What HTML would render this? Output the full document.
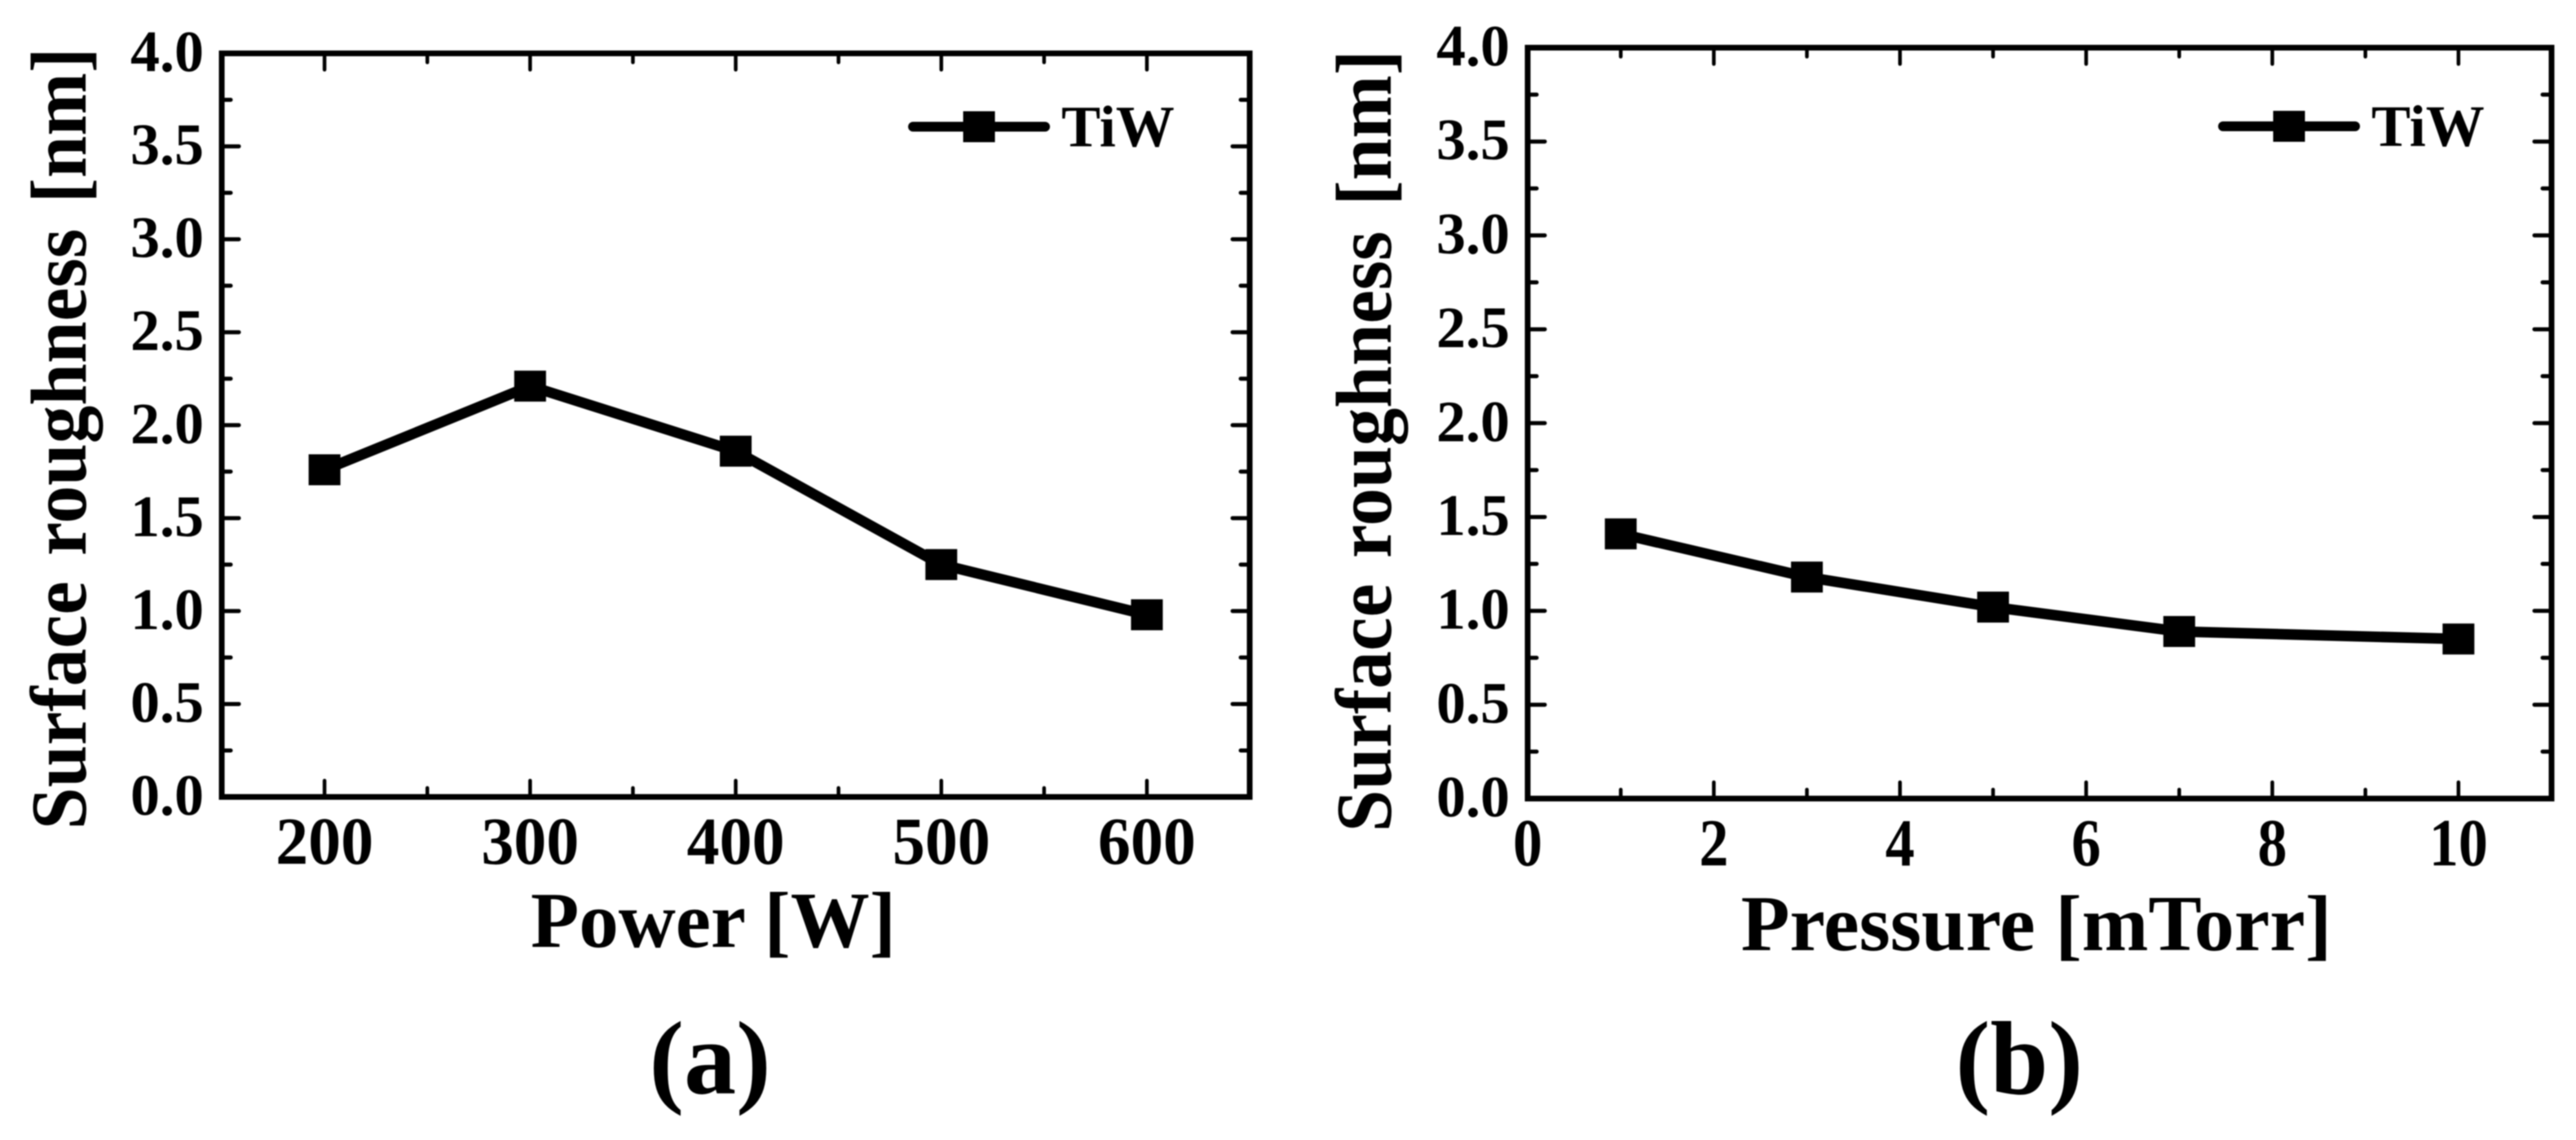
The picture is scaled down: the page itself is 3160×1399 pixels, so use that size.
<!DOCTYPE html>
<html lang="en">
<head>
<meta charset="utf-8">
<title>Surface roughness of TiW versus power and pressure</title>
<style>
  html, body { margin: 0; padding: 0; background: #fff; width: 3160px; height: 1399px; overflow: hidden; }
  svg { display: block; filter: blur(0.7px); }
  text { font-family: "Liberation Serif", serif; font-weight: bold; fill: #000; }
</style>
</head>
<body>
<svg id="figure" xmlns="http://www.w3.org/2000/svg" width="3160" height="1399" viewBox="0 0 3160 1399">
  <rect x="0" y="0" width="3160" height="1399" fill="#fff"/>
  <text x="871" y="1342" font-size="128" text-anchor="middle">(a)</text>
  <text x="2477" y="1342" font-size="128" text-anchor="middle">(b)</text>
</svg>
<script>
const yTickLabels = ["0.0", "0.5", "1.0", "1.5", "2.0", "2.5", "3.0", "3.5", "4.0"];
const powerTickLabels = ["200", "300", "400", "500", "600"];
const pressureTickLabels = ["0", "2", "4", "6", "8", "10"];
const powerValues = [200, 300, 400, 500, 600];
const powerRoughness = [1.76, 2.21, 1.86, 1.25, 0.98];
const pressureValues = [1, 3, 5, 7, 10];
const pressureRoughness = [1.41, 1.18, 1.02, 0.89, 0.85];

const NS = 'http://www.w3.org/2000/svg';
const svg = document.getElementById('figure');

function make(tag, parent, attrs, text) {
  const el = document.createElementNS(NS, tag);
  for (const k in attrs) el.setAttribute(k, attrs[k]);
  if (text !== undefined) el.textContent = text;
  parent.appendChild(el);
  return el;
}

function drawPanel(cfg) {
  const g = make('g', svg, {});
  
  

  const xAt = v => cfg.left + (v - cfg.xMin) / (cfg.xMax - cfg.xMin) * (cfg.right - cfg.left);
  const yAt = v => cfg.bottom - (v - 0) / (4 - 0) * (cfg.bottom - cfg.top);

  const xLabelValues = cfg.xLabels.map(Number);
  const xStep = (xLabelValues[1] - xLabelValues[0]) / 2;

  // X ticks, major and minor, on bottom and top edges
  for (let i = 0; ; i++) {
    const v = xLabelValues[0] + i * xStep;
    if (v >= cfg.xMax) break;
    if (v <= cfg.xMin) continue;
    const major = i % 2 === 0;
    const len = major ? 20 : 11;
    const x = xAt(v);
    const tickB = make('line', g, { x1: x, x2: x, y1: cfg.bottom, y2: cfg.bottom - len, stroke: '#000', 'stroke-width': 4.5, 'stroke-linecap': 'round' });
    
    
    const tickT = make('line', g, { x1: x, x2: x, y1: cfg.top, y2: cfg.top + len, stroke: '#000', 'stroke-width': 4.5, 'stroke-linecap': 'round' });
    
    
  }

  // Y ticks, major and minor, on left and right edges
  const yLabelValues = yTickLabels.map(Number);
  for (let i = 0; i < yLabelValues.length; i++) {
    const vals = i < yLabelValues.length - 1 ? [yLabelValues[i], (yLabelValues[i] + yLabelValues[i + 1]) / 2] : [yLabelValues[i]];
    vals.forEach((v, j) => {
      if (v === 0 || v === 4) return;
      const len = j === 0 ? 21 : 11;
      const y = yAt(v);
      const tickL = make('line', g, { x1: cfg.left, x2: cfg.left + len, y1: y, y2: y, stroke: '#000', 'stroke-width': 5, 'stroke-linecap': 'round' });
      
      
      const tickR = make('line', g, { x1: cfg.right, x2: cfg.right - len, y1: y, y2: y, stroke: '#000', 'stroke-width': 5, 'stroke-linecap': 'round' });
      
      
    });
  }

  // Frame
  const frame = make('rect', g, { x: cfg.left, y: cfg.top, width: cfg.right - cfg.left, height: cfg.bottom - cfg.top, fill: 'none', stroke: '#000', 'stroke-width': 7 });
  
  

  // Tick labels
  cfg.xLabels.forEach(label => {
    const t = make('text', g, { transform: 'translate(' + xAt(Number(label)) + ',' + cfg.xLabelBaseline + ') scale(1,' + cfg.xLabelStretch + ')', 'font-size': cfg.xLabelSize, 'text-anchor': 'middle' }, label);
    
    
  });
  yTickLabels.forEach(label => {
    const t = make('text', g, { x: cfg.left - 22, y: yAt(Number(label)) + 22, 'font-size': 72, 'text-anchor': 'end' }, label);
    
    
  });

  // Axis titles
  const xTitle = make('text', g, { x: cfg.xTitleX, y: cfg.xTitleY, 'font-size': cfg.xTitleSize, 'text-anchor': 'middle' }, cfg.xTitle);
  
  
  const yTitle = make('text', g, { transform: 'translate(' + cfg.yTitleX + ',' + cfg.yTitleY + ') rotate(-90) scale(1,1.05)', 'font-size': 93, 'word-spacing': 8 }, 'Surface roughness [nm]');
  
  

  // Series line
  const pts = cfg.xs.map((x, i) => xAt(x) + ',' + yAt(cfg.ys[i])).join(' ');
  const line = make('polyline', g, { points: pts, fill: 'none', stroke: '#000', 'stroke-width': 13, 'stroke-linejoin': 'round', 'stroke-linecap': 'round' });
  
  

  // Series markers
  cfg.xs.forEach((x, i) => {
    const m = make('rect', g, { x: xAt(x) - 19.5, y: yAt(cfg.ys[i]) - 19, width: 39, height: 38, fill: '#000' });
    
    
  });

  // Legend
  const lg = make('g', g, {});
  
  
  const ll = make('line', lg, { x1: cfg.legendX, x2: cfg.legendX + 162, y1: cfg.legendY, y2: cfg.legendY, stroke: '#000', 'stroke-width': 12, 'stroke-linecap': 'round' });
  
  
  const lm = make('rect', lg, { x: cfg.legendX + 81 - 19.5, y: cfg.legendY - 19, width: 39, height: 38, fill: '#000' });
  
  
  const lt = make('text', lg, { x: cfg.legendX + 182, y: cfg.legendY + 24, 'font-size': 72 }, 'TiW');
  
  
}

drawPanel({
  id: 'panel-a', left: 272, right: 1533, top: 65.5, bottom: 978,
  xMin: 150, xMax: 650, xLabels: powerTickLabels, xs: powerValues, ys: powerRoughness,
  xLabelBaseline: 1060, xLabelSize: 80, xLabelStretch: 1.03,
  xTitle: 'Power [W]', xTitleSize: 97, xTitleX: 875, xTitleY: 1162,
  yTitleX: 105, yTitleY: 1018, legendX: 1120, legendY: 155.5
});
drawPanel({
  id: 'panel-b', left: 1874, right: 3130, top: 58.5, bottom: 980,
  xMin: 0, xMax: 11, xLabels: pressureTickLabels, xs: pressureValues, ys: pressureRoughness,
  xLabelBaseline: 1062, xLabelSize: 72, xLabelStretch: 1.15,
  xTitle: 'Pressure [mTorr]', xTitleSize: 98, xTitleX: 2498, xTitleY: 1166,
  yTitleX: 1706, yTitleY: 1021, legendX: 2727, legendY: 155
});
</script>
</body>
</html>
